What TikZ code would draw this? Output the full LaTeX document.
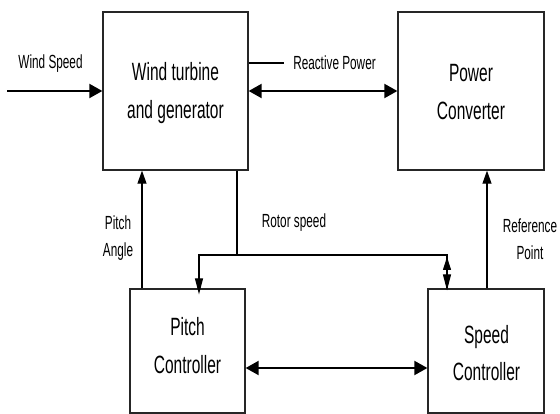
\documentclass[tikz,border=0pt]{standalone}
\usepackage{fontspec}
\newfontfamily\nf{Liberation Sans}[FakeStretch=0.62]
\usetikzlibrary{arrows.meta}
\tikzset{
  blk/.style={draw=black!85, line width=1.3pt, minimum width=#1, inner sep=0pt},
  big/.style={font=\nf\fontsize{25}{38}\selectfont, align=center, inner sep=0pt, anchor=base},
  small/.style={font=\nf\fontsize{19}{27.5}\selectfont, align=center, inner sep=0pt, anchor=base},
  thick arr/.style={line width=2pt, -{Triangle[length=13pt,width=14pt]}},
  dbl arr/.style={line width=2pt, {Triangle[length=13pt,width=14pt]}-{Triangle[length=13pt,width=14pt]}},
  thin arr/.style={line width=1.1pt, -{Triangle[length=13pt,width=9pt]}},
  thin line/.style={line width=1.1pt}
}
\begin{document}
\begin{tikzpicture}[x=1pt,y=-1pt]
\useasboundingbox (0,0) rectangle (560,414);
% boxes
\node[blk=145pt, minimum height=158pt] (wt) at (175.5,91) {};
\node[blk=146pt, minimum height=158pt] (pcv) at (471,91) {};
\node[blk=115pt, minimum height=124pt] (pc) at (187.5,351) {};
\node[blk=116pt, minimum height=124pt] (sc) at (486,351) {};
% box texts (anchor=base is the last line's baseline)
\node[big] (wtT) at (175.5,119) {Wind turbine\\and generator};
\node[big] (pcvT) at (471,120) {Power\\Converter};
\node[big] (pcT) at (187.5,373) {Pitch\\Controller};
\node[big] (scT) at (486.5,381) {Speed\\Controller};
% labels
\node[small] (wsL) at (50.5,69) {Wind Speed};
\node[small] (rpL) at (334.5,70) {Reactive Power};
\node[small] (paL) at (118,257) {Pitch\\Angle};
\node[small] (rsL) at (294,228) {Rotor speed};
\node[small] (refL) at (530,260) {Reference\\Point};
% wind speed
\coordinate (ws) at (7,91);
\draw[thick arr] (ws) -- (wt.west);
% reactive power
\draw[dbl arr] (wt.east) -- (pcv.west);
\draw[thin line] ([yshift=28pt]wt.east) -- ++(35,0);
% pitch angle
\coordinate (pa) at ([xshift=-45.5pt]pc.north);
\draw[thin arr] (pa) -- (pa |- wt.south);
% rotor speed
\coordinate (rs) at (237,255);
\coordinate (rsL1) at ([xshift=11.5pt]pc.north);
\coordinate (rsR1) at ([xshift=-39pt]sc.north);
\draw[thin line] (rs |- wt.south) -- (rs);
\draw[thin arr, -{Triangle[length=16pt,width=8pt]}] (rs) -| ([yshift=-6pt]rsL1);
\draw[thin line] (rs) -| (rsR1);
\draw[thin line, {Triangle[length=13pt,width=8pt]}-{Triangle[length=16pt,width=8pt]}] ([yshift=-2pt]rsR1 |- rs) -- ([yshift=-2pt]rsR1);
% reference point
\coordinate (rp) at ([xshift=1pt]sc.north);
\draw[thin arr] (rp) -- (rp |- pcv.south);
% pitch - speed
\draw[dbl arr] ([yshift=-17pt]pc.east) -- ([yshift=-17pt]sc.west);
\end{tikzpicture}
\end{document}
